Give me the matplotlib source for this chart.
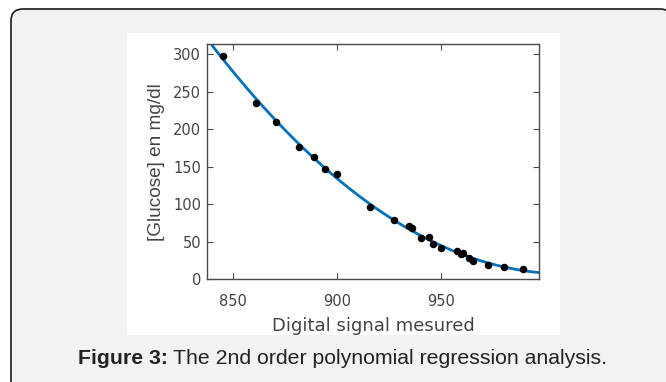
import numpy as np
import matplotlib
matplotlib.use("Agg")
import matplotlib.pyplot as plt
from matplotlib.patches import FancyBboxPatch, Rectangle

# Data
signal = [845.5, 861.2, 870.9, 881.8, 889.1, 894.1, 900.0, 915.9, 927.4, 934.6,
          936.2, 940.4, 944.4, 946.1, 950.0, 957.6, 959.5, 960.5, 963.4, 965.3,
          972.3, 980.1, 989.4]
glucose = [298, 235, 210, 177, 163, 146.5, 140, 96, 79.5, 71,
           69, 55.5, 56.4, 47.5, 42, 37.7, 34, 35, 29, 25,
           19, 16, 13.3]
x_ticks = [850, 900, 950]
y_ticks = [0, 50, 100, 150, 200, 250, 300]
x_range = [837.8, 997]
y_range = [0, 313.7]

plt.rcParams['font.family'] = ['Liberation Sans', 'DejaVu Sans']

W, H = 666, 382
fig = plt.figure(figsize=(W / 100, H / 100), dpi=100)
fig.patch.set_facecolor('white')

def fx(px):
    return px / W

def fy(py):
    return 1 - py / H

# outer rounded frame
frame = FancyBboxPatch((fx(11), fy(395)), fx(672) - fx(11), fy(9) - fy(395),
                       boxstyle="round,pad=0,rounding_size=0.018",
                       transform=fig.transFigure, facecolor='#f1f2f4',
                       edgecolor='#1a1a1a', linewidth=1.2, zorder=0,
                       mutation_aspect=W / H)
fig.add_artist(frame)

# white panel behind chart
panel = Rectangle((fx(127), fy(335)), fx(560) - fx(127), fy(33) - fy(335),
                  transform=fig.transFigure, facecolor='white',
                  edgecolor='none', zorder=0.5)
fig.add_artist(panel)

ax = fig.add_axes([fx(207.3), fy(279.3), fx(539) - fx(207.3), fy(44) - fy(279.3)])
ax.set_zorder(3)
ax.set_facecolor('white')

coef = np.polyfit(signal, glucose, 2)
xs = np.linspace(x_range[0], x_range[1], 300)
ax.plot(xs, np.polyval(coef, xs), color='#0072BD', lw=2.0, zorder=2)
ax.plot(signal, glucose, 'o', color='black', markersize=4.4, zorder=3)

ax.set_xlim(x_range)
ax.set_ylim(y_range)
ax.set_xticks(x_ticks)
ax.set_yticks(y_ticks)
ax.tick_params(direction='in', length=4, width=0.8, top=True, right=True,
               colors='#4a4a4a', labelcolor='#444444', labelsize=10.5,
               labelfontfamily='DejaVu Sans')
ax.tick_params(axis='x', pad=10.5)
ax.tick_params(axis='y', pad=4.5)
for s in ax.spines.values():
    s.set_color('#4a4a4a')
    s.set_linewidth(1.0)

ax.set_xlabel('Digital signal mesured', fontsize=13, color='#444444',
              labelpad=6, family='DejaVu Sans')
ax.set_ylabel('[Glucose] en mg/dl', fontsize=13.7, color='#444444', labelpad=6)

t1 = fig.text(fx(78), fy(358), 'Figure 3:', fontsize=15.3, fontweight='bold',
              color='#222222', ha='left', va='center')
fig.canvas.draw()
bb = t1.get_window_extent()
fig.text(bb.x1 / W + fx(5), fy(358), 'The 2nd order polynomial regression analysis.',
         fontsize=15.3, color='#222222', ha='left', va='center')

fig.savefig('out.png', dpi=100, facecolor='white')
